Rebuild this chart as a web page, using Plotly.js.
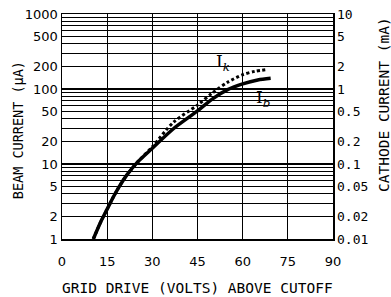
<!DOCTYPE html>
<html>
<head>
<meta charset="utf-8">
<script src="https://cdn.plot.ly/plotly-3.0.1.min.js"></script>
<style>html,body{margin:0;padding:0;background:#fff;}#chart{width:391px;height:297px;}</style>
</head>
<body>
<div id="chart"></div>
<script>
// Grid drive (volts above cutoff)
const gridDriveIb = [10.4, 13, 15, 17, 19, 21.5, 25, 30, 37, 45, 50, 55, 60, 65, 69.3];
// Beam current Ib (µA)
const beamCurrent = [1, 1.74, 2.5, 3.6, 5.0, 7.1, 10.5, 16.2, 29.5, 51, 74, 98, 117, 132, 139];
const gridDriveIk = [10.4, 13, 15, 17, 19, 21.5, 25, 30, 37, 45, 50, 55, 60, 64, 68.2];
// Cathode current Ik (µA scale)
const cathodeCurrent = [1, 1.74, 2.5, 3.6, 5.0, 7.1, 10.5, 17, 36, 61, 89, 123, 155, 172, 182];

const xTicks = [0, 15, 30, 45, 60, 75, 90];
const leftTicks = [1, 2, 5, 10, 20, 50, 100, 200, 500, 1000];
const leftLabels = ['1', '2', '5', '10', '20', '50', '100', '200', '500', '1000'];
const minorLines = [3, 4, 6, 7, 8, 9, 30, 40, 60, 70, 80, 90, 300, 400, 600, 700, 800, 900];
const rightTicks = [0.01, 0.02, 0.05, 0.1, 0.2, 0.5, 1, 2, 5, 10];
const rightLabels = ['0.01', '0.02', '0.05', '0.1', '0.2', '0.5', '1', '2', '5', '10'];

const mono = 'DejaVu Sans Mono, monospace';
const sans = 'DejaVu Sans, sans-serif';

const traces = [
  {x: gridDriveIb, y: beamCurrent, mode: 'lines', line: {color: '#000', width: 3.5, shape: 'spline', smoothing: 0.8}, hoverinfo: 'skip', showlegend: false},
  {x: gridDriveIk, y: cathodeCurrent, mode: 'lines', line: {color: '#000', width: 3, dash: '3px,2.5px', shape: 'spline', smoothing: 0.8}, hoverinfo: 'skip', showlegend: false},
  {x: [], y: [], yaxis: 'y2', mode: 'lines', hoverinfo: 'skip', showlegend: false}
];

const layout = {
  width: 391, height: 297,
  margin: {l: 62, r: 58, t: 14, b: 58},
  paper_bgcolor: '#fff', plot_bgcolor: '#fff',
  showlegend: false,
  xaxis: {
    range: [0, 90], tickvals: xTicks, ticktext: xTicks.map(String),
    showgrid: true, gridcolor: '#000', gridwidth: 1.2, zeroline: false,
    showline: true, linecolor: '#000', linewidth: 1.5, mirror: true,
    ticks: '', ticklabelstandoff: 10,
    tickfont: {family: sans, size: 13, color: '#000'}
  },
  yaxis: {
    type: 'log', range: [0, 3], tickvals: leftTicks, ticktext: leftLabels,
    showgrid: true, gridcolor: '#000', gridwidth: 1.1, zeroline: false,
    showline: true, linecolor: '#000', linewidth: 1.5, mirror: true,
    ticks: '', tickfont: {family: sans, size: 13, color: '#000'},
    minor: {tickvals: minorLines, showgrid: true, gridcolor: '#000', gridwidth: 1.1, ticks: ''}
  },
  yaxis2: {
    type: 'log', range: [-2, 1], overlaying: 'y', side: 'right',
    tickvals: rightTicks, ticktext: rightLabels, showgrid: false, zeroline: false,
    ticks: '', ticklabelstandoff: 3, tickfont: {family: mono, size: 13, color: '#000'}
  },
  annotations: [
    {text: 'BEAM CURRENT (µA)', xref: 'paper', yref: 'paper', x: -0.162, y: 0.484, xanchor: 'center', yanchor: 'middle', textangle: -90, showarrow: false, font: {family: mono, size: 13.5, color: '#000'}},
    {text: 'CATHODE CURRENT (mA)', xref: 'paper', yref: 'paper', x: 1.188, y: 0.6, xanchor: 'center', yanchor: 'middle', textangle: -90, showarrow: false, font: {family: mono, size: 14.5, color: '#000'}},
    {text: 'GRID DRIVE (VOLTS) ABOVE CUTOFF', xref: 'paper', yref: 'paper', x: 0.5, y: -0.218, xanchor: 'center', yanchor: 'middle', showarrow: false, font: {family: mono, size: 14.5, color: '#000'}},
    {text: 'I<sub><i>k</i></sub>', xref: 'x', yref: 'y', x: 53.5, y: 2.35, xanchor: 'center', yanchor: 'middle', showarrow: false, font: {family: 'DejaVu Serif, serif', size: 17, color: '#000'}},
    {text: 'I<sub><i>b</i></sub>', xref: 'x', yref: 'y', x: 66.8, y: 1.88, xanchor: 'center', yanchor: 'middle', showarrow: false, font: {family: 'DejaVu Serif, serif', size: 17, color: '#000'}}
  ]
};
Plotly.newPlot('chart', traces, layout, {staticPlot: true, displayModeBar: false});
</script>
</body>
</html>
